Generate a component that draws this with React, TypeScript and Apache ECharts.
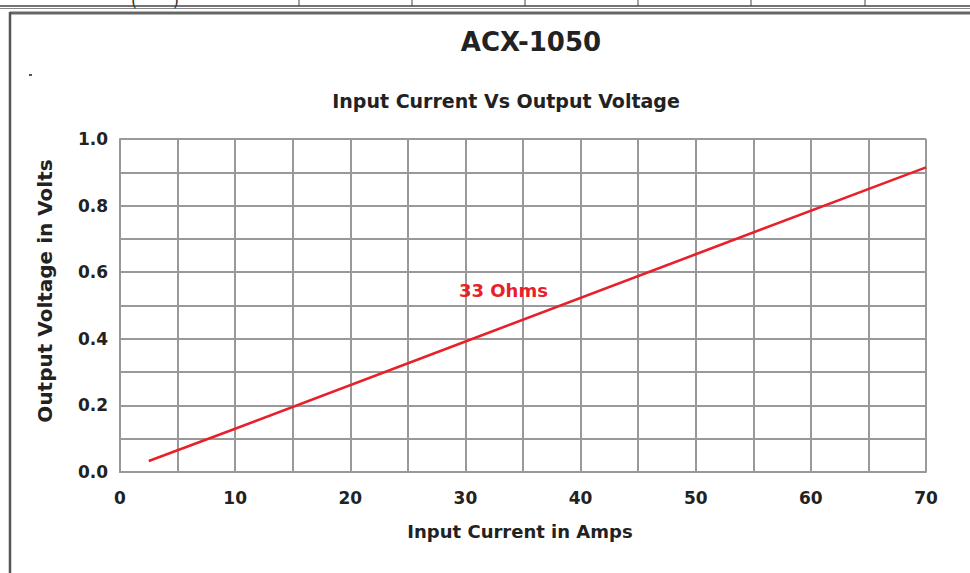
import React, { useEffect, useRef } from "react";
import * as echarts from "echarts";

const currentAmps = [2.5, 10, 30, 50, 70];
const voltageVolts = [0.033, 0.13, 0.392, 0.654, 0.915];
const seriesName = "33 Ohms";
const titleText = "ACX-1050";
const subtitleText = "Input Current Vs Output Voltage";
const xAxisName = "Input Current in Amps";
const yAxisName = "Output Voltage in Volts";

export default function App() {
  const ref = useRef<HTMLDivElement>(null);
  useEffect(() => {
    if (!ref.current) return;
    const chart = echarts.init(ref.current, null, { renderer: "svg" });
    const font = "DejaVu Sans, Liberation Sans, Arial, sans-serif";
    const data = currentAmps.map((x, i) => [x, voltageVolts[i]]);
    const topTicks = [299, 412, 525, 638, 751, 865];
    chart.setOption({
      animation: false,
      backgroundColor: "#ffffff",
      title: [
        {
          text: titleText,
          left: 526,
          top: 24,
          textAlign: "center",
          textStyle: { fontFamily: font, fontSize: 26, fontWeight: "bold", color: "#222" },
        },
        {
          text: subtitleText,
          left: 501,
          top: 86,
          textAlign: "center",
          textStyle: { fontFamily: font, fontSize: 19, fontWeight: "bold", color: "#222" },
        },
      ],
      grid: { left: 120, right: 44, top: 139, bottom: 101, containLabel: false },
      xAxis: {
        type: "value",
        min: 0,
        max: 70,
        interval: 5,
        name: xAxisName,
        nameLocation: "middle",
        nameGap: 50,
        nameTextStyle: { fontFamily: font, fontSize: 18, fontWeight: "bold", color: "#222", padding: [0, 0, 0, -6] },
        axisLine: { show: true, lineStyle: { color: "#999", width: 2 } },
        axisTick: { show: false },
        splitLine: { show: true, lineStyle: { color: "#999", width: 2 } },
        axisLabel: {
          margin: 17,
          fontFamily: font,
          fontSize: 17,
          fontWeight: "bold",
          color: "#222",
          formatter: (v: number) => (Math.round(v) % 10 === 0 ? String(v) : ""),
        },
      },
      yAxis: {
        type: "value",
        min: 0,
        max: 1,
        interval: 0.1,
        axisLine: { show: true, lineStyle: { color: "#999", width: 2 } },
        axisTick: { show: false },
        splitLine: { show: true, lineStyle: { color: "#999", width: 2 } },
        axisLabel: {
          margin: 12,
          fontFamily: font,
          fontSize: 17,
          fontWeight: "bold",
          color: "#222",
          formatter: (v: number) => {
            const t = Math.round(v * 10);
            return t % 2 === 0 ? (t / 10).toFixed(1) : "";
          },
        },
      },
      series: [
        {
          type: "line",
          name: seriesName,
          data,
          symbol: "none",
          lineStyle: { color: "#e8202a", width: 2.5 },
          markPoint: {
            symbol: "circle",
            symbolSize: 0,
            data: [{ coord: [33.3, 0.544], value: seriesName }],
            label: {
              show: true,
              position: "inside",
              formatter: seriesName,
              fontFamily: font,
              fontSize: 18,
              fontWeight: "bold",
              color: "#e8202a",
            },
          },
        },
      ],
      graphic: [
        { type: "line", shape: { x1: 0, y1: 6, x2: 970, y2: 6 }, style: { stroke: "#444", lineWidth: 1.5 } },
        { type: "line", shape: { x1: 0, y1: 8.5, x2: 970, y2: 8.5 }, style: { stroke: "#888", lineWidth: 1 } },
        ...topTicks.map((x) => ({
          type: "line",
          shape: { x1: x, y1: 0, x2: x, y2: 6 },
          style: { stroke: "#444", lineWidth: 1 },
        })),
        { type: "text", left: 131, top: -8, style: { text: "(       )", fontFamily: font, fontSize: 16, fill: "#333" } },
        { type: "line", shape: { x1: 10, y1: 13, x2: 970, y2: 13 }, style: { stroke: "#666", lineWidth: 3 } },
        { type: "line", shape: { x1: 10, y1: 12, x2: 10, y2: 573 }, style: { stroke: "#555", lineWidth: 2.5 } },
        { type: "rect", shape: { x: 29, y: 74, width: 3, height: 2 }, style: { fill: "#555" } },
        {
          type: "text",
          x: 45,
          y: 291,
          rotation: Math.PI / 2,
          style: {
            text: yAxisName,
            fontFamily: font,
            fontSize: 20,
            fontWeight: "bold",
            fill: "#222",
            align: "center",
            verticalAlign: "middle",
          },
        },
      ],
    });
    return () => chart.dispose();
  }, []);
  return (
    <div
      ref={ref}
      style={{ position: "fixed", left: 0, top: 0, width: 970, height: 573, background: "#fff" }}
    />
  );
}
